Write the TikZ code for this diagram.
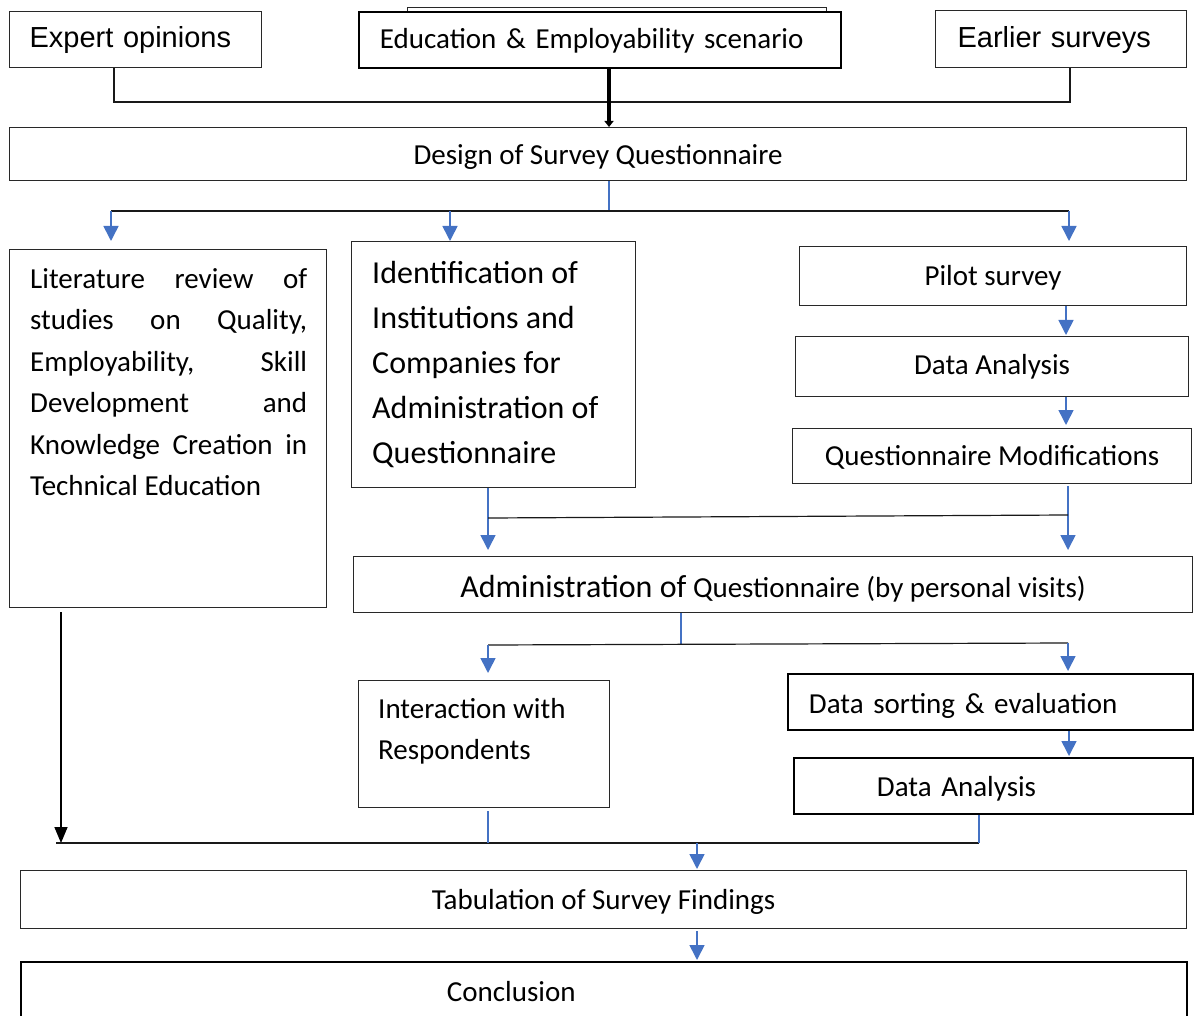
\documentclass[tikz,border=0pt]{standalone}
\usepackage{fontspec}
\setmainfont{Carlito}
\newfontfamily\arialfont{Liberation Sans}
\usetikzlibrary{arrows.meta}
\definecolor{flowblue}{RGB}{68,114,196}
\definecolor{framegray}{RGB}{40,40,40}
\begin{document}
\begin{tikzpicture}[x=1pt,y=-1pt,
  box/.style={draw=framegray, line width=1.1pt, inner sep=0pt, anchor=north west, align=center,
              font=\fontsize{29}{35}\selectfont},
  heavybox/.style={box, draw=black, line width=1.9pt},
  lowtext/.style={text height=24pt, text depth=4pt},
  txt/.style={inner sep=0pt, anchor=north west},
  blackline/.style={draw=black!90, line width=1.2pt},
  blueline/.style={draw=flowblue, line width=1.6pt},
  bluearrow/.style={blueline, -{Triangle[width=15pt,length=15pt]}},
  blackarrow/.style={draw=black, line width=1.6pt, -{Triangle[width=13pt,length=16pt]}},
  thickarrow/.style={draw=black, line width=3.6pt, -{Triangle[width=9pt,length=6pt]}}
]
\useasboundingbox (0,0) rectangle (1194,1016);
\clip (0,0) rectangle (1194,1016);

% ---- sources ----
\draw[line width=1pt, draw=framegray] (407,8) rectangle (826,68);
\node[box, minimum width=252pt, minimum height=56pt, inner xsep=20pt, text width=212pt, align=left,
      text height=22.6pt, text depth=6pt,
      font=\arialfont\fontsize{29}{35}\selectfont] (expert) at (9,11) {Expert opinions};
\node[heavybox, fill=white, minimum width=482pt, minimum height=56pt, inner xsep=21pt, text width=440pt, align=left,
      text height=22pt, text depth=5pt]
      (edu) at (358,11) {Education \& Employability scenario};
\node[box, minimum width=251pt, minimum height=57pt, inner xsep=22pt, text width=207pt, align=left,
      text height=22.6pt, text depth=6pt,
      font=\arialfont\fontsize{29}{35}\selectfont] (earlier) at (935,10) {Earlier surveys};

% ---- design ----
\node[box, lowtext, minimum width=1177pt, minimum height=53pt] (design) at (9,127) {Design of Survey Questionnaire};

% ---- three branches ----
\node[box, minimum width=317pt, minimum height=358pt] (lit) at (9,249) {};
\node[txt, text width=277pt, align=justify, font=\fontsize{29}{41.5}\selectfont] (littext) at (30,268)
  {\hyphenpenalty=10000 Literature review of\linebreak studies on Quality,\linebreak Employability, Skill\linebreak
   Development and\linebreak Knowledge Creation in\linebreak Technical Education};

\node[box, minimum width=284pt, minimum height=246pt] (ident) at (351,241) {};
\node[txt, align=left, font=\fontsize{32}{45}\selectfont] (identtext) at (372,261)
  {Identification of\\Institutions and\\Companies for\\Administration of\\Questionnaire};

\node[box, minimum width=387pt, minimum height=59pt, text height=23.5pt, text depth=4pt] (pilot) at (799,246) {Pilot survey};
\node[box, minimum width=393pt, minimum height=60pt, text height=21pt, text depth=6pt] (da1) at (795,336) {Data Analysis};
\node[box, minimum width=399pt, minimum height=55pt, text height=23pt, text depth=4pt] (qm) at (792,428) {Questionnaire Modifications};

% ---- administration ----
\node[box, minimum width=839pt, minimum height=56pt, text height=29pt, text depth=4pt] (admin) at (353,556)
  {{\fontsize{32}{38}\selectfont Administration of} Questionnaire (by personal visits)};

\node[box, minimum width=251pt, minimum height=127pt] (inter) at (358,680) {};
\node[txt, align=left, font=\fontsize{29}{41}\selectfont] (intertext) at (378,698)
  {Interaction with\\Respondents};

\node[heavybox, minimum width=405pt, minimum height=56pt, inner xsep=21pt, text width=363pt, align=left,
      text height=28pt, text depth=4pt]
  (sort) at (787,673) {Data sorting \& evaluation};
\node[heavybox, minimum width=399pt, minimum height=56pt, inner xsep=83pt, text width=233pt, align=left,
      text height=26pt, text depth=4pt]
  (da2) at (793,757) {Data Analysis};

% ---- results ----
\node[box, lowtext, minimum width=1166pt, minimum height=58pt] (tab) at (20,870) {Tabulation of Survey Findings};
\node[heavybox, minimum width=1166pt, minimum height=60pt, inner xsep=426pt, text width=314pt, align=left]
  (concl) at (20,961) {Conclusion};

% ---- connectors: sources to design ----
\coordinate (jEO) at (114,102);
\coordinate (jES) at (1070,102);
\coordinate (xEdu) at (609,0);
\draw[blackline] (expert.south -| jEO) -- (jEO) -- (jES) -- (earlier.south -| jES);
\draw[thickarrow] (edu.south -| xEdu) -- (design.north -| xEdu);

% ---- design to branches ----
\coordinate (jD) at (609,211);
\coordinate (jL) at (111,211);
\coordinate (jI) at (450,211);
\coordinate (jR) at (1069,211);
\draw[blueline] (design.south -| jD) -- (jD);
\draw[blackline] (jL) -- (jR);
\draw[bluearrow, shorten >=8pt] (jL) -- (lit.north -| jL);
\draw[bluearrow] (jI) -- (ident.north -| jI);
\draw[bluearrow, shorten >=5pt] (jR) -- (pilot.north -| jR);

% ---- pilot chain ----
\coordinate (xP) at (1066,0);
\draw[bluearrow, shorten >=1pt] (pilot.south -| xP) -- (da1.north -| xP);
\draw[bluearrow, shorten >=3pt] (da1.south -| xP) -- (qm.north -| xP);

% ---- merge into administration ----
\coordinate (mL) at (488,518);
\coordinate (mR) at (1068,515);
\draw[bluearrow, shorten >=6pt] (ident.south -| mL) -- (admin.north -| mL);
\draw[bluearrow, shorten >=6pt] ([yshift=-2pt]qm.south -| mR) -- (admin.north -| mR);
\draw[blackline] (mL) -- (mR);

% ---- administration split ----
\coordinate (sA) at (681,645);
\coordinate (sL) at (488,645);
\coordinate (sR) at (1068,643);
\draw[blueline] (admin.south -| sA) -- (sA);
\draw[blackline] (sL) -- (sR);
\draw[bluearrow, shorten >=7pt] (sL) -- (inter.north -| sL);
\draw[bluearrow, shorten >=2pt] (sR) -- (sort.north -| sR);
\coordinate (xS) at (1069,0);
\draw[bluearrow, shorten >=1pt] (sort.south -| xS) -- (da2.north -| xS);

% ---- gathering line to tabulation ----
\coordinate (gS) at (56,843);
\coordinate (gL) at (61,843);
\coordinate (gI) at (488,843);
\coordinate (gT) at (697,843);
\coordinate (gR) at (979,843);
\draw[blackarrow] ([yshift=-4pt]lit.south -| gL) -- (gL);
\draw[blackline] (gS) -- (gR);
\draw[blueline] ([yshift=-3pt]inter.south -| gI) -- (gI);
\draw[blueline] (da2.south -| gR) -- (gR);
\draw[bluearrow, shorten >=1pt] (gT) -- (tab.north -| gT);
\draw[bluearrow, shorten >=1pt] ([yshift=-2pt]tab.south -| gT) -- (concl.north -| gT);
\end{tikzpicture}
\end{document}
